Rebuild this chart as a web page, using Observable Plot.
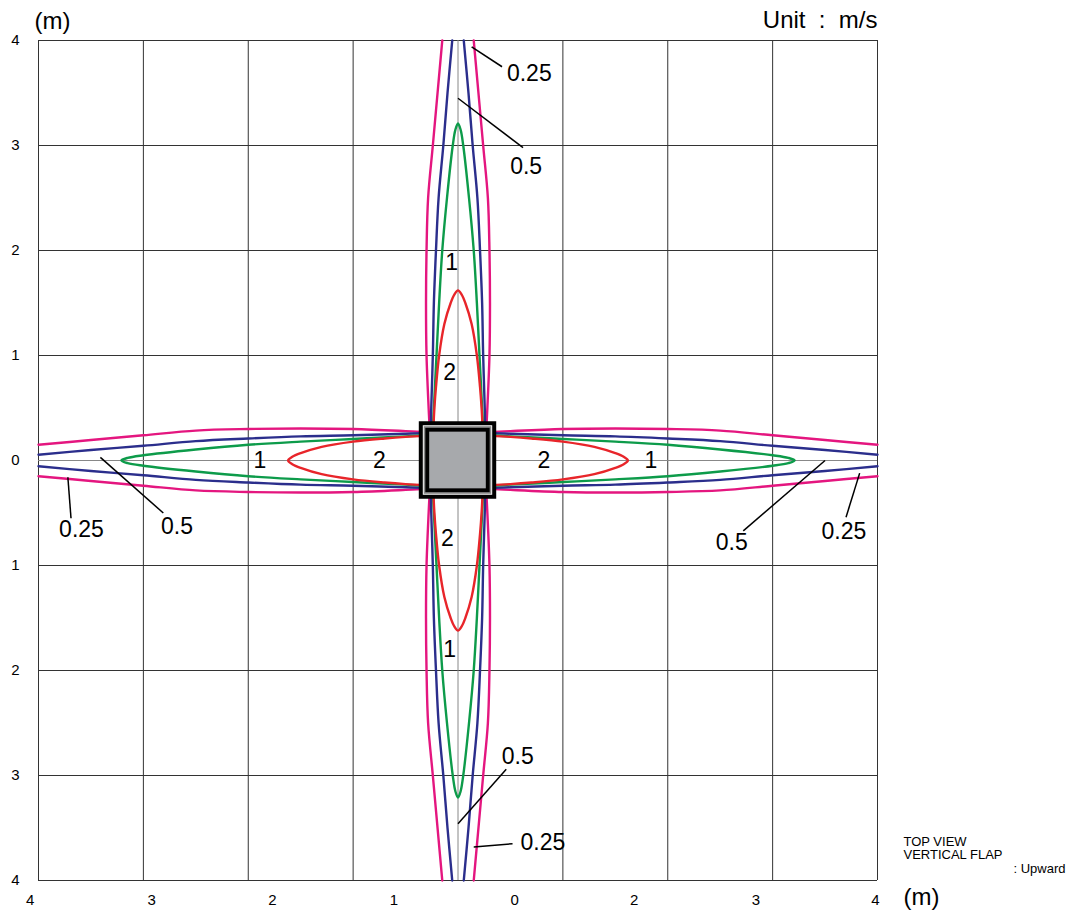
<!DOCTYPE html>
<html><head><meta charset="utf-8">
<script src="https://cdn.jsdelivr.net/npm/d3@7"></script>
<script src="https://cdn.jsdelivr.net/npm/@observablehq/plot@0.6"></script>
<style>body{margin:0;background:#fff;}</style>
</head><body><div id="chart"></div>
<script>
// grid and ticks (metres)
const gridValues = [-4, -3, -2, -1, 0, 1, 2, 3, 4];
const yTickValues = [-4, -3, -2, -1, 0, 1, 2, 3, 4];
const xTickLabels = ["4", "3", "2", "1", "0", "2", "3", "4"];
const xTickPositions = [-4.08, -2.92, -1.77, -0.61, 0.54, 1.68, 2.84, 3.98];

// contour profiles: distance from centre along the jet (m) and half-width (m)
const d025 = [0.3, 0.5, 1.0, 1.5, 2.0, 2.5, 3.0, 3.5, 4.0];
const w025 = [0.27, 0.28, 0.30, 0.305, 0.30, 0.285, 0.24, 0.195, 0.15];
const d05 = [0.3, 0.5, 1.0, 1.5, 2.0, 2.5, 3.0, 3.5, 4.0];
const w05 = [0.26, 0.255, 0.24, 0.23, 0.21, 0.185, 0.14, 0.10, 0.055];
const d1 = [0.3, 0.5, 1.0, 1.5, 2.0, 2.5, 3.0, 3.15, 3.21];
const w1 = [0.24, 0.23, 0.205, 0.18, 0.15, 0.105, 0.05, 0.025, 0];
const d2 = [0.3, 0.5, 0.7, 1.0, 1.3, 1.5, 1.58, 1.62];
const w2 = [0.235, 0.225, 0.21, 0.18, 0.13, 0.07, 0.035, 0];

// unit (air outlet) half sizes (m)
const unitOuter = [0.35];
const unitMiddle = [0.315];
const unitInner = [0.289];

// contour labels
const labelText = ["0.25", "0.5", "1", "2", "1", "2", "2", "1", "0.25", "0.5", "0.5", "0.25", "2", "1", "0.5", "0.25"];
const labelX = [0.68, 0.65, -0.06, -0.08, -1.89, -0.75, 0.82, 1.84, -3.59, -2.68, 2.61, 3.68, -0.10, -0.08, 0.57, 0.81];
const labelY = [3.68, 2.80, 1.88, 0.84, 0.0, 0.0, 0.0, 0.0, -0.66, -0.63, -0.78, -0.68, -0.74, -1.80, -2.82, -3.64];

// leader lines
const leaderX1 = [0.13, 0.0, -3.72, -3.41, 3.50, 3.83, 0.0, 0.15];
const leaderY1 = [3.94, 3.45, -0.16, 0.03, 0.0, -0.12, -3.46, -3.68];
const leaderX2 = [0.42, 0.62, -3.69, -2.81, 2.72, 3.70, 0.46, 0.52];
const leaderY2 = [3.75, 2.98, -0.55, -0.50, -0.67, -0.54, -2.94, -3.65];

function lobes(ds, ws, closed) {
  const dirs = [[0, 1], [0, -1], [1, 0], [-1, 0]];
  const out = [];
  dirs.forEach(([ax, ay], k) => {
    const side = s => ds.map((d, i) => ({
      x: ax === 0 ? s * ws[i] : ax * d,
      y: ay === 0 ? s * ws[i] : ay * d
    }));
    const plus = side(1), minus = side(-1);
    if (closed) {
      [...plus, ...minus.reverse().slice(1)].forEach(p => out.push({...p, id: "l" + k}));
    } else {
      plus.forEach(p => out.push({...p, id: "a" + k}));
      minus.forEach(p => out.push({...p, id: "b" + k}));
    }
  });
  return out;
}

const labels = labelText.map((t, i) => ({t, x: labelX[i], y: labelY[i]}));
const leaders = leaderX1.map((v, i) => ({x1: v, y1: leaderY1[i], x2: leaderX2[i], y2: leaderY2[i]}));
const xTicks = xTickPositions.map((x, i) => ({x, label: xTickLabels[i]}));

const font = "'Liberation Sans', Arial, Helvetica, sans-serif";
const lineOpts = {x: "x", y: "y", z: "id", strokeWidth: 2.4, curve: "catmull-rom"};

const chart = Plot.plot({
  width: 1069,
  height: 915,
  marginLeft: 38,
  marginRight: 192,
  marginTop: 40,
  marginBottom: 35,
  style: {fontFamily: font, fontSize: "15px", background: "#fff", color: "#000", overflow: "visible"},
  x: {domain: [-4, 4], axis: null},
  y: {domain: [-4, 4], axis: null},
  marks: [
    Plot.ruleX(gridValues.filter(v => v !== 0), {stroke: "#333", strokeWidth: 1}),
    Plot.ruleY(gridValues.filter(v => v !== 0), {stroke: "#333", strokeWidth: 1}),
    Plot.ruleX([0], {stroke: "#888", strokeWidth: 1}),
    Plot.ruleY([0], {stroke: "#888", strokeWidth: 1}),
    Plot.axisY(yTickValues, {tickSize: 0, tickPadding: 19, tickFormat: d => String(Math.abs(d)), fontSize: 15, label: null}),
    Plot.text(xTicks, {x: "x", text: "label", frameAnchor: "bottom", lineAnchor: "middle", dy: 20, fontSize: 15}),
    Plot.line(lobes(d025, w025, false), {...lineOpts, stroke: "#e4167f"}),
    Plot.line(lobes(d05, w05, false), {...lineOpts, stroke: "#2b2e8c"}),
    Plot.line(lobes(d1, w1, true), {...lineOpts, stroke: "#0d9b4a"}),
    Plot.line(lobes(d2, w2, true), {...lineOpts, stroke: "#e8252a"}),
    Plot.rect(unitOuter, {x1: d => -d, x2: d => d, y1: d => -d, y2: d => d, fill: "#fff", stroke: "#000", strokeWidth: 4}),
    Plot.rect(unitMiddle, {x1: d => -d, x2: d => d, y1: d => -d, y2: d => d, fill: "none", stroke: "#8a8a8a", strokeWidth: 1.5}),
    Plot.rect(unitInner, {x1: d => -d, x2: d => d, y1: d => -d, y2: d => d, fill: "#a7a9ac", stroke: "#000", strokeWidth: 4}),
    Plot.link(leaders, {x1: "x1", y1: "y1", x2: "x2", y2: "y2", stroke: "#000", strokeWidth: 1.5}),
    Plot.text(labels, {x: "x", y: "y", text: "t", fontSize: 23, fill: "#000"}),
    Plot.text(["(m)"], {frameAnchor: "top-left", textAnchor: "middle", lineAnchor: "middle", dx: 14, dy: -19, fontSize: 24}),
    Plot.text(["Unit\u00a0\u00a0:\u00a0\u00a0m/s"], {frameAnchor: "top-right", textAnchor: "end", lineAnchor: "middle", dy: -20, fontSize: 24}),
    Plot.text(["(m)"], {frameAnchor: "bottom-right", textAnchor: "start", lineAnchor: "middle", dx: 26, dy: 17, fontSize: 24}),
    Plot.text(["TOP VIEW"], {frameAnchor: "bottom-right", textAnchor: "start", lineAnchor: "middle", dx: 26, dy: -39, fontSize: 13}),
    Plot.text(["VERTICAL FLAP"], {frameAnchor: "bottom-right", textAnchor: "start", lineAnchor: "middle", dx: 26, dy: -26, fontSize: 13}),
    Plot.text([": Upward"], {frameAnchor: "bottom-right", textAnchor: "end", lineAnchor: "middle", dx: 188, dy: -12, fontSize: 13})
  ]
});
document.getElementById("chart").appendChild(chart);
</script>
</body></html>
